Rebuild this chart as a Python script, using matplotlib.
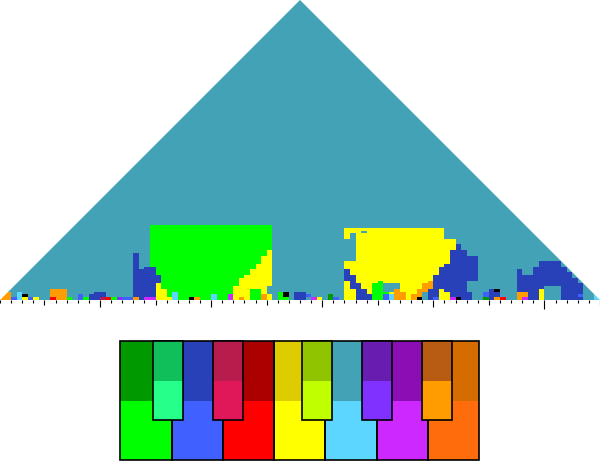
import numpy as np
import matplotlib
matplotlib.use('Agg')
import matplotlib.pyplot as plt
from matplotlib.colors import ListedColormap
from matplotlib.patches import Polygon, Rectangle

# ---------------- data ----------------
KEY_NAMES = ['C', 'C#', 'D', 'D#', 'E', 'F', 'F#', 'G', 'G#', 'A', 'A#', 'B']
MAJOR_COLORS = ['#00ff00', '#26ff8a', '#4060ff', '#e0185a', '#ff0000', '#ffff00',
                '#c0ff00', '#5cd6ff', '#8030ff', '#cc28ff', '#ff9c00', '#ff6c0c']
MINOR_COLORS = ['#009900', '#10bf5a', '#2840b8', '#b71c4c', '#aa0000', '#dccc00',
                '#90c400', '#43a2b5', '#681cb0', '#8a0eb4', '#b85c14', '#d46c00']
NO_KEY_COLOR = '#000000'

MAJOR_CODES = 'CIDJEFKGLAHB'   # one letter per major key (C, C#, D, ...)
MINOR_CODES = 'cidjefkglahb'   # one letter per minor key
NO_KEY_CODE = 'x'
TONIC_CODE = 'g'               # global key of the piece ('.' in the runs)

PIECE_LENGTH = 54              # beats
RESOLUTION = 0.5               # beats per keyscape cell

# Key of each keyscape cell: one string per time position (centre), listing
# runs "<count><key>" from the smallest window size upwards; the remaining
# (larger) windows are in the global key.
COLUMN_RUNS = [
    "3H", "3H", "1D", "3G", "1F 1x", "1D", "1F", "", "", "1E 3H",
    "4H", "4H", "1C", "", "2D", "1C", "2d", "3d", "1j 2d", "1E",
    "1C", "1L", "1D", "1D", "1H 16d", "11d", "1A 11d", "1A 11d 15C", "6F 3d 18C", "4F 23C",
    "1F 26C", "3G 24C", "27C", "27C", "1x 26C", "1H 26C", "27C", "27C", "2G 25C", "27C",
    "27C", "2A 25C", "5F 22C", "1H 7F 19C", "9F 18C", "4C 7F 16C", "4C 9F 14C", "2H 14F 11C", "2F 3. 13F 9C", "",
    "3C", "1C 2x", "", "3d", "3d", "1. 1D", "1A", "1F", "", "2c",
    "1D", "", "7F 4d 3F 8. 4F", "4F 5d 5F 10. 2F", "6d 20F", "4d 20F 1. 1F", "2d 24F", "6C 20F", "7C 19F", "2D 1C 3. 20F",
    "2G 1F 3. 20F", "4H 2. 20F", "3H 23F", "26F", "2H 24F", "1x 3H 22F", "3. 3H 20F", "4d 3H 19F", "1D 8d 17F", "4F 8d 14F",
    "3F 10d 9F", "1A 17d 4F", "1x 19d", "18d", "3d 4. 9d", "7. 9d", "", "1c 2D", "4d", "1H 2d 1x",
    "1E", "", "", "3H 8d", "1A 2H 6d", "9d", "12d", "4F 10d", "5. 9d", "5. 9d",
    "5. 9d", "12d", "10d", "8d", "1d 1D 4d", "", "", "2G",
]

# ---------------- build key matrix ----------------
palette = MAJOR_COLORS + MINOR_COLORS + [NO_KEY_COLOR]


def code_index(ch):
    if ch == '.':
        ch = TONIC_CODE
    if ch in MAJOR_CODES:
        return MAJOR_CODES.index(ch)
    if ch in MINOR_CODES:
        return 12 + MINOR_CODES.index(ch)
    return 24


n = int(round(PIECE_LENGTH / RESOLUTION))
grid = np.full((n, n), code_index(TONIC_CODE), dtype=float)
for c, runs in enumerate(COLUMN_RUNS):
    r = 0
    for tok in runs.split():
        cnt, ch = int(tok[:-1]), tok[-1]
        grid[r:r + cnt, c] = code_index(ch)
        r += cnt

# ---------------- figure ----------------
W, H = 600, 461
fig = plt.figure(figsize=(W / 100, H / 100), dpi=100)

ax = fig.add_axes([0, (H - 300) / H, 1, 300 / H])
edges = np.arange(n + 1) * RESOLUTION
mesh = ax.pcolormesh(edges, edges, grid, cmap=ListedColormap(palette),
                     vmin=-0.5, vmax=len(palette) - 0.5, shading='flat',
                     antialiased=False, edgecolors='none')
tri = Polygon([(0, 0), (PIECE_LENGTH / 2, PIECE_LENGTH), (PIECE_LENGTH, 0)],
              closed=True, transform=ax.transData)
mesh.set_clip_path(tri)
ax.set_xlim(0, PIECE_LENGTH)
ax.set_ylim(0, PIECE_LENGTH)
for s in ax.spines.values():
    s.set_visible(False)
ax.set_yticks([])
beats = np.arange(0, PIECE_LENGTH + 1)
ax.set_xticks(beats)
ax.set_xticklabels([])
ax.tick_params(axis='x', direction='out', width=0.8, color='black', length=1.9)
for b, tk in zip(beats, ax.xaxis.get_major_ticks()):
    if b == 49:
        L = 6.5
    elif b % 10 == 9:
        L = 4.8
    elif b % 5 == 4:
        L = 3.4
    else:
        L = 1.9
    tk.tick1line.set_markersize(L)

# ---------------- key legend (keyboard) ----------------
lax = fig.add_axes([120.3 / W, (H - 460) / H, 359 / W, 118.7 / H])
lax.set_xlim(0, 7)
lax.set_ylim(0, 1)
lax.axis('off')
white = [0, 2, 4, 5, 7, 9, 11]
black = [1, 3, 6, 8, 10]
lw = 1.2
for i, k in enumerate(white):
    lax.add_patch(Rectangle((i, 0.5), 1, 0.5, facecolor=MINOR_COLORS[k], edgecolor='none', clip_on=False))
    lax.add_patch(Rectangle((i, 0.0), 1, 0.5, facecolor=MAJOR_COLORS[k], edgecolor='none', clip_on=False))
for i, k in enumerate(white):
    lax.add_patch(Rectangle((i, 0), 1, 1, fill=False, edgecolor='black', lw=lw, clip_on=False))
bw = 7 / 12
for k in black:
    x0 = k * bw + 0.05
    lax.add_patch(Rectangle((x0, 0.664), bw, 0.336, facecolor=MINOR_COLORS[k], edgecolor='none', clip_on=False))
    lax.add_patch(Rectangle((x0, 0.336), bw, 0.328, facecolor=MAJOR_COLORS[k], edgecolor='none', clip_on=False))
    lax.add_patch(Rectangle((x0, 0.336), bw, 0.664, fill=False, edgecolor='black', lw=lw, clip_on=False))

fig.savefig('out.png', dpi=100)
